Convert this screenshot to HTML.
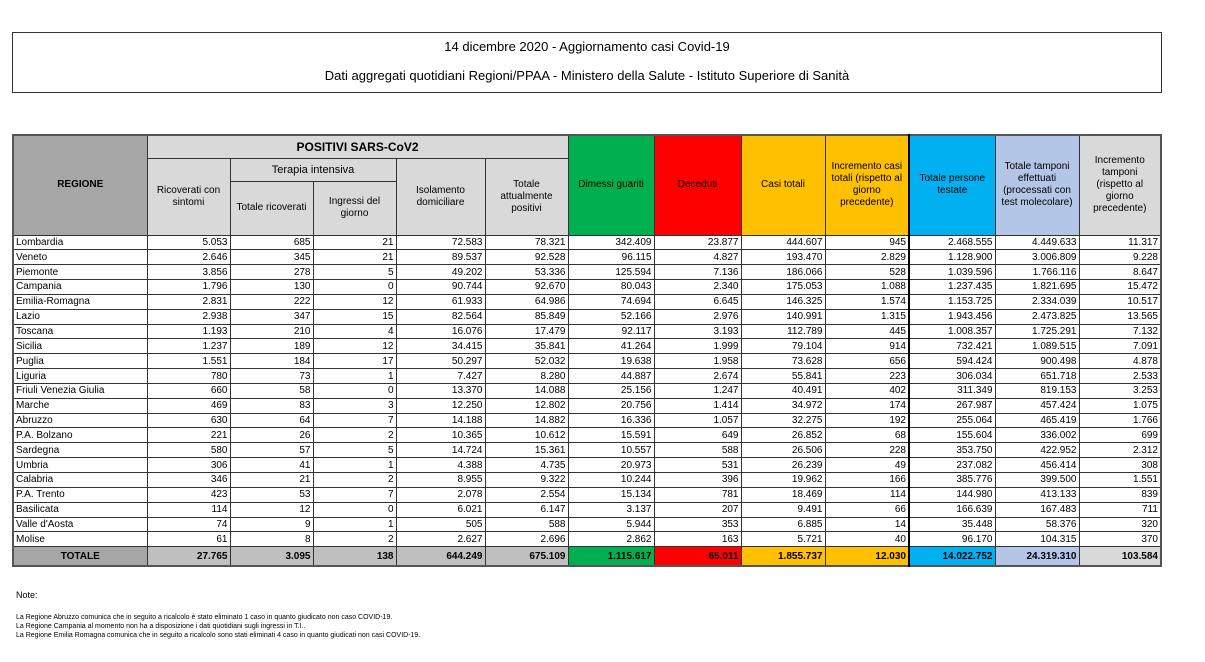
<!DOCTYPE html>
<html><head><meta charset="utf-8"><style>
body{margin:0;width:1205px;height:662px;background:#fff;font-family:"Liberation Sans",sans-serif;position:relative;overflow:hidden}
.title{position:absolute;left:12px;top:32px;width:1148px;height:59px;border:1px solid #333;text-align:center;font-size:13px;color:#000}
.title div{position:absolute;left:0;right:0}
table{position:absolute;left:12px;top:134px;border-collapse:collapse;table-layout:fixed;font-size:10px;border:2px solid #555}
td{border:1px solid #333;padding:0 2px;overflow:hidden;white-space:nowrap;line-height:13px}
tbody td{height:13.85px;text-align:right}
tbody td:first-child{text-align:left}
th{font-weight:normal;border:1px solid #333;font-size:10px;line-height:12px;padding:0 3px}
.g{background:#d9d9d9}.dg{background:#a6a6a6}.gr{background:#00b050}.rd{background:#ff0000}.ye{background:#ffc000}.bl{background:#00b0f0}.lv{background:#b4c6e7}
.bk{border-left:2px solid #000}
tr.tot td{background:#bfbfbf;font-weight:bold;height:18px}
.note{position:absolute;left:16px;font-size:7px;color:#000}
</style></head><body>
<div class="title"><div style="top:6px">14 dicembre 2020 - Aggiornamento casi Covid-19</div><div style="top:35px">Dati aggregati quotidiani Regioni/PPAA - Ministero della Salute - Istituto Superiore di Sanità</div></div>
<table>
<colgroup><col style="width:134px"><col style="width:83px"><col style="width:83px"><col style="width:83px"><col style="width:89px"><col style="width:83px"><col style="width:86px"><col style="width:87px"><col style="width:84px"><col style="width:84px"><col style="width:86px"><col style="width:84px"><col style="width:82px"></colgroup>
<thead>
<tr style="height:23px"><th rowspan="3" class="dg" style="font-weight:bold">REGIONE</th><th colspan="5" class="g" style="font-weight:bold;font-size:12px">POSITIVI SARS-CoV2</th><th rowspan="3" class="gr">Dimessi guariti</th><th rowspan="3" class="rd">Deceduti</th><th rowspan="3" class="ye">Casi totali</th><th rowspan="3" class="ye">Incremento casi totali (rispetto al giorno precedente)</th><th rowspan="3" class="bl bk">Totale persone testate</th><th rowspan="3" class="lv">Totale tamponi effettuati (processati con test molecolare)</th><th rowspan="3" class="g" style="padding:0 8px">Incremento tamponi (rispetto al giorno precedente)</th></tr>
<tr style="height:23px"><th rowspan="2" class="g">Ricoverati con sintomi</th><th colspan="2" class="g" style="font-size:11px">Terapia intensiva</th><th rowspan="2" class="g">Isolamento domiciliare</th><th rowspan="2" class="g">Totale attualmente positivi</th></tr>
<tr style="height:54px"><th class="g">Totale ricoverati</th><th class="g">Ingressi del giorno</th></tr>
</thead>
<tbody>
<tr><td>Lombardia</td><td>5.053</td><td>685</td><td>21</td><td>72.583</td><td>78.321</td><td>342.409</td><td>23.877</td><td>444.607</td><td>945</td><td class="bk">2.468.555</td><td>4.449.633</td><td>11.317</td></tr>
<tr><td>Veneto</td><td>2.646</td><td>345</td><td>21</td><td>89.537</td><td>92.528</td><td>96.115</td><td>4.827</td><td>193.470</td><td>2.829</td><td class="bk">1.128.900</td><td>3.006.809</td><td>9.228</td></tr>
<tr><td>Piemonte</td><td>3.856</td><td>278</td><td>5</td><td>49.202</td><td>53.336</td><td>125.594</td><td>7.136</td><td>186.066</td><td>528</td><td class="bk">1.039.596</td><td>1.766.116</td><td>8.647</td></tr>
<tr><td>Campania</td><td>1.796</td><td>130</td><td>0</td><td>90.744</td><td>92.670</td><td>80.043</td><td>2.340</td><td>175.053</td><td>1.088</td><td class="bk">1.237.435</td><td>1.821.695</td><td>15.472</td></tr>
<tr><td>Emilia-Romagna</td><td>2.831</td><td>222</td><td>12</td><td>61.933</td><td>64.986</td><td>74.694</td><td>6.645</td><td>146.325</td><td>1.574</td><td class="bk">1.153.725</td><td>2.334.039</td><td>10.517</td></tr>
<tr><td>Lazio</td><td>2.938</td><td>347</td><td>15</td><td>82.564</td><td>85.849</td><td>52.166</td><td>2.976</td><td>140.991</td><td>1.315</td><td class="bk">1.943.456</td><td>2.473.825</td><td>13.565</td></tr>
<tr><td>Toscana</td><td>1.193</td><td>210</td><td>4</td><td>16.076</td><td>17.479</td><td>92.117</td><td>3.193</td><td>112.789</td><td>445</td><td class="bk">1.008.357</td><td>1.725.291</td><td>7.132</td></tr>
<tr><td>Sicilia</td><td>1.237</td><td>189</td><td>12</td><td>34.415</td><td>35.841</td><td>41.264</td><td>1.999</td><td>79.104</td><td>914</td><td class="bk">732.421</td><td>1.089.515</td><td>7.091</td></tr>
<tr><td>Puglia</td><td>1.551</td><td>184</td><td>17</td><td>50.297</td><td>52.032</td><td>19.638</td><td>1.958</td><td>73.628</td><td>656</td><td class="bk">594.424</td><td>900.498</td><td>4.878</td></tr>
<tr><td>Liguria</td><td>780</td><td>73</td><td>1</td><td>7.427</td><td>8.280</td><td>44.887</td><td>2.674</td><td>55.841</td><td>223</td><td class="bk">306.034</td><td>651.718</td><td>2.533</td></tr>
<tr><td>Friuli Venezia Giulia</td><td>660</td><td>58</td><td>0</td><td>13.370</td><td>14.088</td><td>25.156</td><td>1.247</td><td>40.491</td><td>402</td><td class="bk">311.349</td><td>819.153</td><td>3.253</td></tr>
<tr><td>Marche</td><td>469</td><td>83</td><td>3</td><td>12.250</td><td>12.802</td><td>20.756</td><td>1.414</td><td>34.972</td><td>174</td><td class="bk">267.987</td><td>457.424</td><td>1.075</td></tr>
<tr><td>Abruzzo</td><td>630</td><td>64</td><td>7</td><td>14.188</td><td>14.882</td><td>16.336</td><td>1.057</td><td>32.275</td><td>192</td><td class="bk">255.064</td><td>465.419</td><td>1.766</td></tr>
<tr><td>P.A. Bolzano</td><td>221</td><td>26</td><td>2</td><td>10.365</td><td>10.612</td><td>15.591</td><td>649</td><td>26.852</td><td>68</td><td class="bk">155.604</td><td>336.002</td><td>699</td></tr>
<tr><td>Sardegna</td><td>580</td><td>57</td><td>5</td><td>14.724</td><td>15.361</td><td>10.557</td><td>588</td><td>26.506</td><td>228</td><td class="bk">353.750</td><td>422.952</td><td>2.312</td></tr>
<tr><td>Umbria</td><td>306</td><td>41</td><td>1</td><td>4.388</td><td>4.735</td><td>20.973</td><td>531</td><td>26.239</td><td>49</td><td class="bk">237.082</td><td>456.414</td><td>308</td></tr>
<tr><td>Calabria</td><td>346</td><td>21</td><td>2</td><td>8.955</td><td>9.322</td><td>10.244</td><td>396</td><td>19.962</td><td>166</td><td class="bk">385.776</td><td>399.500</td><td>1.551</td></tr>
<tr><td>P.A. Trento</td><td>423</td><td>53</td><td>7</td><td>2.078</td><td>2.554</td><td>15.134</td><td>781</td><td>18.469</td><td>114</td><td class="bk">144.980</td><td>413.133</td><td>839</td></tr>
<tr><td>Basilicata</td><td>114</td><td>12</td><td>0</td><td>6.021</td><td>6.147</td><td>3.137</td><td>207</td><td>9.491</td><td>66</td><td class="bk">166.639</td><td>167.483</td><td>711</td></tr>
<tr><td>Valle d'Aosta</td><td>74</td><td>9</td><td>1</td><td>505</td><td>588</td><td>5.944</td><td>353</td><td>6.885</td><td>14</td><td class="bk">35.448</td><td>58.376</td><td>320</td></tr>
<tr><td>Molise</td><td>61</td><td>8</td><td>2</td><td>2.627</td><td>2.696</td><td>2.862</td><td>163</td><td>5.721</td><td>40</td><td class="bk">96.170</td><td>104.315</td><td>370</td></tr>
<tr class="tot"><td class="dg" style="text-align:center;background:#a6a6a6">TOTALE</td><td>27.765</td><td>3.095</td><td>138</td><td>644.249</td><td>675.109</td><td style="background:#00b050">1.115.617</td><td style="background:#ff0000">65.011</td><td style="background:#ffc000">1.855.737</td><td style="background:#ffc000">12.030</td><td class="bk" style="background:#00b0f0">14.022.752</td><td style="background:#b4c6e7">24.319.310</td><td style="background:#d9d9d9">103.584</td></tr>
</tbody></table>
<div class="note" style="top:590px;font-size:9px">Note:</div>
<div class="note" style="top:614px">La Regione Abruzzo comunica che in seguito a ricalcolo è stato eliminato 1 caso in quanto giudicato non caso COVID-19.</div>
<div class="note" style="top:623px">La Regione Campania al momento non ha a disposizione i dati quotidiani sugli ingressi in T.I..</div>
<div class="note" style="top:632px">La Regione Emilia Romagna comunica che in seguito a ricalcolo sono stati eliminati 4 caso in quanto giudicati non casi COVID-19.</div>
</body></html>
